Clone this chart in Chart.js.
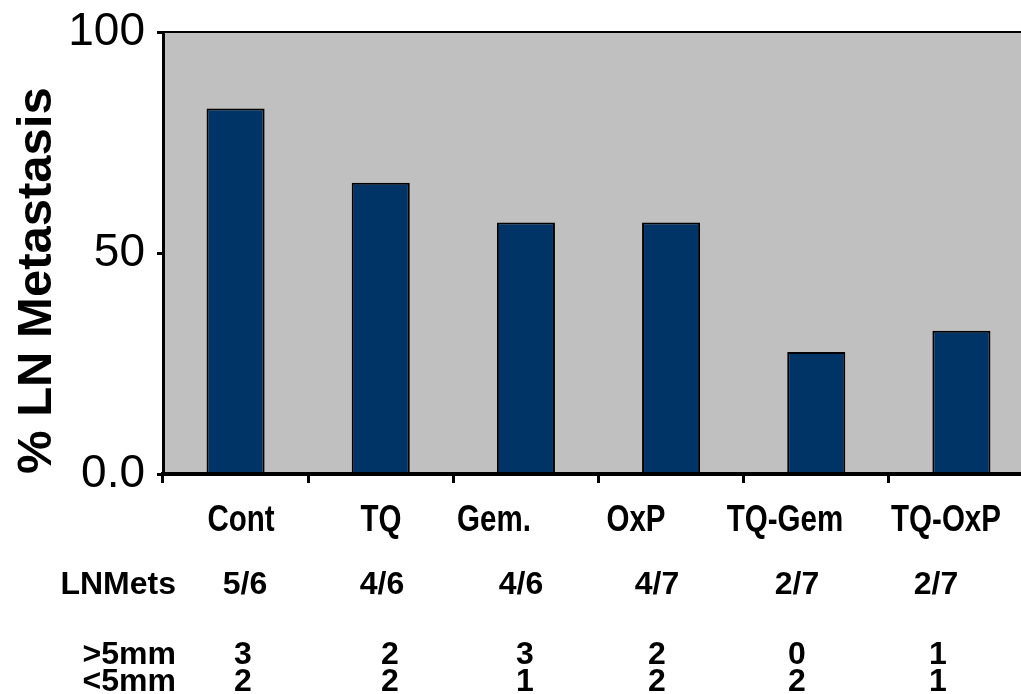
<!DOCTYPE html>
<html>
<head>
<meta charset="utf-8">
<script src="https://cdn.jsdelivr.net/npm/chart.js@4/dist/chart.umd.min.js"></script>
<style>
  html, body { margin: 0; padding: 0; background: #fff; overflow: hidden; }
  #wrap { position: relative; width: 1036px; height: 694px; }
</style>
</head>
<body>
<div id="wrap"><canvas id="chart"></canvas></div>
<script>
// Treatment groups and % of animals with lymph-node metastasis
const groups = ['Cont', 'TQ', 'Gem.', 'OxP', 'TQ-Gem', 'TQ-OxP'];
const lnMetastasisPct = [82.7, 65.9, 56.9, 56.9, 27.6, 32.4];

// Table under the chart
const lnMets = ['5/6', '4/6', '4/6', '4/7', '2/7', '2/7'];
const over5mm = ['3', '2', '3', '2', '0', '1'];
const under5mm = ['2', '2', '1', '2', '2', '1'];

// Y axis ticks
const yTickValues = [0, 50, 100];
const yTickLabels = ['0.0', '50', '100'];

// Text layout of the table (column centres and row heights, px)
const groupLabelX = [241, 381, 494, 636, 785, 946];
const fractionX = [245, 382, 521, 657, 797, 936];
const countX = [243, 390, 525, 657, 797, 938];
const rowHeaderRight = 176;
const rowY = { group: 521, mets: 585, over: 655, under: 682 };

const SANS = '"Liberation Sans", Arial, Helvetica, sans-serif';

function fontAvailable(name) {
  const c = document.createElement('canvas').getContext('2d');
  const probe = 'TQ-Gem Cont mmmm';
  c.font = 'bold 40px monospace';
  const a = c.measureText(probe).width;
  c.font = 'bold 40px "' + name + '", monospace';
  const b = c.measureText(probe).width;
  return a !== b;
}
const hasNarrow = fontAvailable('Liberation Sans Narrow');

const plotFrame = {
  id: 'plotFrame',
  beforeDraw(chart) {
    const { ctx, chartArea: a } = chart;
    ctx.save();
    ctx.fillStyle = '#C0C0C0';
    ctx.fillRect(a.left, a.top, a.right - a.left, a.bottom - a.top);
    ctx.restore();
  },
  afterDatasetsDraw(chart) {
    const { ctx, chartArea: a } = chart;
    ctx.save();
    ctx.strokeStyle = '#000';
    ctx.lineWidth = 2;
    ctx.beginPath();
    ctx.moveTo(a.left, a.top);
    ctx.lineTo(chart.width, a.top);
    ctx.stroke();
    ctx.restore();
  },
  afterDraw(chart) {
    const ctx = chart.ctx;
    ctx.save();
    ctx.fillStyle = '#000';
    ctx.textBaseline = 'middle';
    ctx.textAlign = 'center';

    // group names (condensed bold)
    groups.forEach((g, i) => {
      if (hasNarrow) {
        ctx.font = 'bold 36px "Liberation Sans Narrow", "Arial Narrow", sans-serif';
        ctx.fillText(g, groupLabelX[i], rowY.group);
      } else {
        ctx.save();
        ctx.font = 'bold 36px ' + SANS;
        ctx.translate(groupLabelX[i], rowY.group);
        ctx.scale(0.82, 1);
        ctx.fillText(g, 0, 0);
        ctx.restore();
      }
    });

    ctx.font = 'bold 32px ' + SANS;
    ctx.textAlign = 'right';
    ctx.fillText('LNMets', rowHeaderRight, rowY.mets);
    ctx.fillText('>5mm', rowHeaderRight, rowY.over);
    ctx.fillText('<5mm', rowHeaderRight, rowY.under);

    ctx.textAlign = 'center';
    lnMets.forEach((t, i) => ctx.fillText(t, fractionX[i], rowY.mets));
    over5mm.forEach((t, i) => ctx.fillText(t, countX[i], rowY.over));
    under5mm.forEach((t, i) => ctx.fillText(t, countX[i], rowY.under));
    ctx.restore();
  }
};

new Chart(document.getElementById('chart'), {
  type: 'bar',
  data: {
    labels: groups,
    datasets: [{
      data: lnMetastasisPct,
      backgroundColor: '#003366',
      borderColor: '#000',
      borderWidth: 2,
      barPercentage: 0.4,
      categoryPercentage: 1.0
    }]
  },
  options: {
    responsive: true,
    maintainAspectRatio: false,
    animation: false,
    devicePixelRatio: 1,
    layout: { padding: { top: 32, right: 2, left: 0, bottom: 0 } },
    plugins: { legend: { display: false }, tooltip: { enabled: false } },
    scales: {
      x: {
        afterFit(scale) { scale.height = 220; scale.paddingLeft = 0; scale.paddingRight = 0; },
        grid: {
          display: true,
          drawOnChartArea: false,
          drawTicks: true,
          tickLength: 9,
          tickWidth: 3,
          tickColor: '#000',
          offset: true
        },
        border: { display: true, color: '#000', width: 4, z: 1 },
        ticks: { callback: () => '', padding: 0 }
      },
      y: {
        min: 0,
        max: 100,
        afterFit(scale) { scale.width = 163; scale.paddingTop = 0; scale.paddingBottom = 0; },
        afterBuildTicks(scale) { scale.ticks = yTickValues.map(v => ({ value: v })); },
        grid: {
          display: true,
          drawOnChartArea: false,
          drawTicks: true,
          tickLength: 6,
          tickWidth: 3,
          tickColor: '#000'
        },
        border: { display: true, color: '#000', width: 3, z: 1 },
        ticks: {
          padding: 12,
          color: '#000',
          font: { family: SANS, size: 46, lineHeight: 1 },
          callback: (v) => yTickLabels[yTickValues.indexOf(v)]
        },
        title: {
          display: true,
          text: '% LN Metastasis',
          align: 'start',
          color: '#000',
          font: { family: SANS, size: 49, weight: 'bold' },
          padding: { top: 8, bottom: 0 }
        }
      }
    }
  },
  plugins: [plotFrame]
});
</script>
</body>
</html>
